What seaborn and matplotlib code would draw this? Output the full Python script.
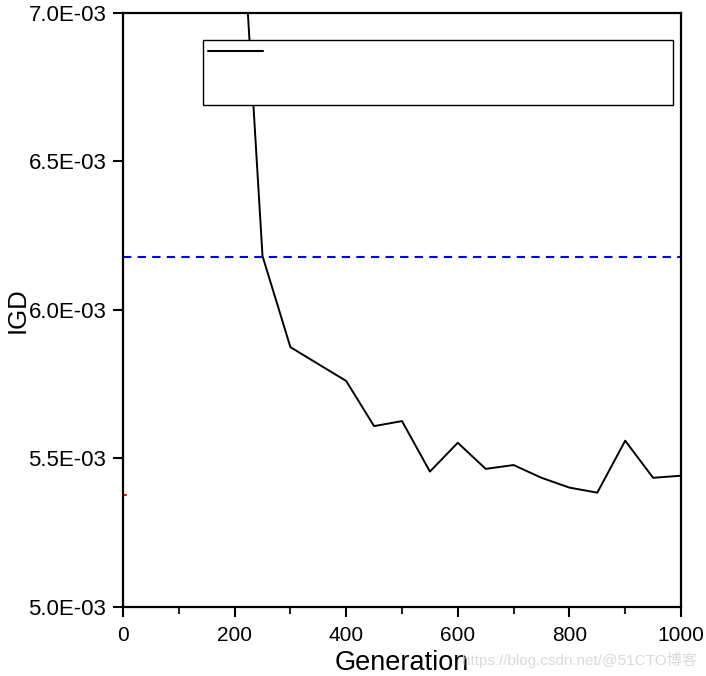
import matplotlib
matplotlib.use("Agg")
import matplotlib.pyplot as plt
import seaborn as sns
import pandas as pd
from matplotlib.lines import Line2D
from matplotlib.ticker import MultipleLocator, FuncFormatter

generations = [200, 250, 300, 350, 400, 450, 500, 550, 600, 650, 700, 750, 800, 850, 900, 950, 1000]
igd = [7.74e-3, 6.182e-3, 5.875e-3, 5.818e-3, 5.761e-3, 5.609e-3, 5.626e-3, 5.456e-3, 5.553e-3,
       5.465e-3, 5.478e-3, 5.435e-3, 5.402e-3, 5.385e-3, 5.560e-3, 5.435e-3, 5.442e-3]
reference_igd = 6.178e-3
red_x = [0, 6]
red_y = [5.377e-3, 5.377e-3]

sns.set_style("ticks")
plt.rcParams['font.family'] = ['Liberation Sans', 'Noto Sans CJK SC', 'DejaVu Sans']

fig = plt.figure(figsize=(7.06, 6.76), dpi=100)
ax = fig.add_axes([123/706, 1-607/676, (681-123)/706, (607-13)/676])

df = pd.DataFrame({"Generation": generations, "IGD": igd})
sns.lineplot(data=df, x="Generation", y="IGD", ax=ax, color="black", linewidth=1.4, label=" ")
ax.axhline(reference_igd, color="#0000ee", linestyle=(0, (4, 3)), linewidth=1.5)
ax.plot(red_x, red_y, color="red", linewidth=1.5)

ax.set_xlim(0, 1000)
ax.set_ylim(5.0e-3, 7.0e-3)
ax.xaxis.set_major_locator(MultipleLocator(200))
ax.xaxis.set_minor_locator(MultipleLocator(100))
ax.yaxis.set_major_locator(MultipleLocator(0.5e-3))
ax.yaxis.set_major_formatter(FuncFormatter(lambda v, p: f"{v*1e3:.1f}E-03"))
ax.tick_params(axis='both', which='major', direction='out', length=7, width=1.5,
               colors='black', pad=5)
ax.tick_params(axis='y', which='major', labelsize=16)
ax.tick_params(axis='x', which='major', labelsize=15, pad=7)
ax.tick_params(axis='x', which='minor', direction='out', length=5, width=1.5)
ax.tick_params(top=False, right=False)
for s in ax.spines.values():
    s.set_linewidth(1.6)
    s.set_color('black')
ax.set_xlabel("Generation", fontsize=19.5, labelpad=3, color='black')
ax.set_ylabel("IGD", fontsize=18.5, labelpad=-1, color='black')

handles = [Line2D([], [], color='black', linewidth=1.5),
           Line2D([], [], color='white', linewidth=0),
           Line2D([], [], color='white', linewidth=0)]
leg = ax.legend(handles, [" ", " ", " "], loc='upper left',
                bbox_to_anchor=((203-123)/558, (607-105)/594, (673-203)/558, 65/594),
                mode='expand', frameon=True, fancybox=False, framealpha=1,
                edgecolor='black', handlelength=3.1, fontsize=13, borderpad=0.25,
                labelspacing=0.15, handletextpad=0.5, borderaxespad=0)
leg.get_frame().set_linewidth(1.0)

fig.text(462/706, 1-660/676, "https://blog.csdn.net/@51CTO博客", fontsize=11,
         color='#dadada', va='center', ha='left')

fig.savefig("out.png", dpi=100)
